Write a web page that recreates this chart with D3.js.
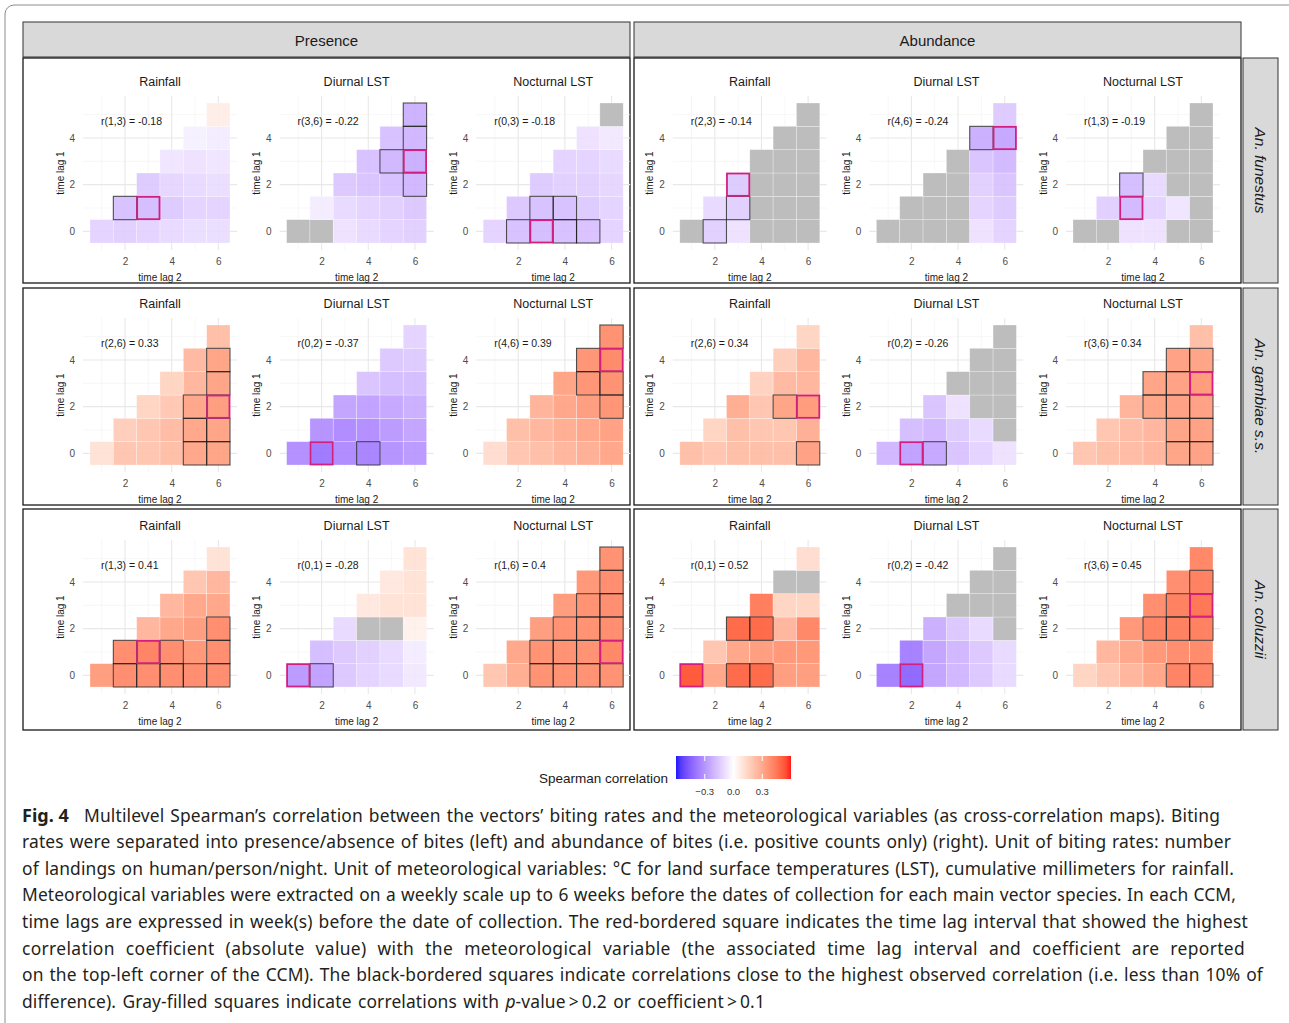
<!DOCTYPE html>
<html>
<head>
<meta charset="utf-8">
<script src="https://cdn.jsdelivr.net/npm/d3@7"></script>
<style>
  body { margin: 0; background: #fff; }
  svg { display: block; font-family: "Liberation Sans", Arial, sans-serif; }
</style>
</head>
<body>
<div id="plot"></div>
<script>
// ---- data ----
const outcomes = ["Presence", "Abundance"];
const species = ["An. funestus", "An. gambiae s.s.", "An. coluzzii"];
const variables = ["Rainfall", "Diurnal LST", "Nocturnal LST"];
const lag2Ticks = [2, 4, 6];
const lag1Ticks = [0, 2, 4];
const legendTicks = [-0.3, 0, 0.3];

// each map: rows for time lag 1 = 0..5, each row holds time lag 2 = lag1+1 .. 6
// null = gray (p-value > 0.2)
const funestusPresence = [
  [[-0.12,-0.13,-0.12,-0.10,-0.09,-0.09],[-0.17,-0.18,-0.14,-0.12,-0.12],[-0.14,-0.11,-0.10,-0.09],[-0.07,-0.08,-0.07],[-0.04,-0.05],[0.06]],
  [[null,null,-0.08,-0.10,-0.12,-0.13],[-0.05,-0.10,-0.12,-0.13,-0.15],[-0.15,-0.16,-0.17,-0.20],[-0.17,-0.20,-0.22],[-0.17,-0.20],[-0.21]],
  [[-0.12,-0.17,-0.18,-0.17,-0.165,-0.12],[-0.15,-0.17,-0.17,-0.14,-0.12],[-0.14,-0.13,-0.13,-0.11],[-0.12,-0.12,-0.10],[-0.08,-0.06],[null]]
];
const funestusAbundance = [
  [[null,-0.13,-0.08,null,null,null],[-0.10,-0.13,null,null,null],[-0.14,null,null,null],[null,null,null],[null,null],[null]],
  [[null,null,null,null,-0.08,-0.12],[null,null,null,-0.12,-0.14],[null,null,-0.13,-0.16],[null,-0.16,-0.19],[-0.22,-0.24],[-0.14]],
  [[null,null,-0.08,-0.08,null,null],[-0.13,-0.19,-0.12,-0.07,null],[-0.18,-0.10,null,null],[null,null,null],[null,null],[null]]
];
const gambiaePresence = [
  [[0.10,0.20,0.20,0.22,0.30,0.31],[0.17,0.20,0.23,0.30,0.31],[0.15,0.19,0.30,0.33],[0.15,0.25,0.31],[0.24,0.31],[0.22]],
  [[-0.31,-0.37,-0.32,-0.34,-0.30,-0.28],[-0.30,-0.32,-0.31,-0.28,-0.25],[-0.25,-0.26,-0.24,-0.22],[-0.16,-0.18,-0.18],[-0.15,-0.14],[-0.12]],
  [[0.12,0.20,0.22,0.25,0.27,0.30],[0.22,0.25,0.28,0.30,0.32],[0.26,0.30,0.33,0.36],[0.31,0.36,0.37],[0.36,0.39],[0.37]]
];
const gambiaeAbundance = [
  [[0.22,0.20,0.22,0.22,0.22,0.32],[0.15,0.22,0.20,0.20,0.27],[0.28,0.20,0.31,0.34],[0.16,0.24,0.25],[0.17,0.25],[0.15]],
  [[-0.20,-0.26,-0.24,-0.16,-0.12,-0.08],[-0.18,-0.20,-0.14,-0.10,null],[-0.16,-0.08,null,null],[null,null,null],[null,null],[null]],
  [[0.20,0.22,0.23,0.25,0.31,0.32],[0.20,0.23,0.25,0.31,0.32],[0.26,0.31,0.32,0.32],[0.31,0.32,0.34],[0.32,0.31],[0.22]]
];
const coluzziiPresence = [
  [[0.33,0.38,0.38,0.38,0.38,0.38],[0.38,0.41,0.38,0.35,0.38],[0.25,0.30,0.33,0.38],[0.25,0.30,0.30],[0.20,0.25],[0.10]],
  [[-0.28,-0.26,-0.15,-0.12,-0.10,-0.06],[-0.18,-0.15,-0.13,-0.10,-0.05],[-0.10,null,null,0.05],[0.08,0.10,0.10],[0.08,0.10],[0.10]],
  [[0.20,0.28,0.37,0.37,0.37,0.37],[0.30,0.37,0.37,0.37,0.40],[0.33,0.37,0.37,0.38],[0.34,0.37,0.38],[0.35,0.38],[0.37]]
];
const coluzziiAbundance = [
  [[0.52,0.30,0.48,0.48,0.33,0.33],[0.20,0.30,0.33,0.35,0.35],[0.48,0.48,0.25,0.40],[0.43,0.15,0.15],[null,null],[0.12]],
  [[-0.35,-0.42,-0.25,-0.20,-0.15,-0.10],[-0.35,-0.25,-0.20,-0.15,-0.10],[-0.22,-0.15,-0.10,null],[null,null,null],[null,null],[null]],
  [[0.15,0.20,0.25,0.30,0.41,0.41],[0.25,0.30,0.35,0.38,0.39],[0.35,0.41,0.42,0.42],[0.38,0.42,0.45],[0.38,0.42],[0.40]]
];

const captionLines = [
  "Multilevel Spearman\u2019s correlation between the vectors\u2019 biting rates and the meteorological variables (as cross-correlation maps). Biting",
  "rates were separated into presence/absence of bites (left) and abundance of bites (i.e. positive counts only) (right). Unit of biting rates: number",
  "of landings on human/person/night. Unit of meteorological variables: \u00b0C for land surface temperatures (LST), cumulative millimeters for rainfall.",
  "Meteorological variables were extracted on a weekly scale up to 6 weeks before the dates of collection for each main vector species. In each CCM,",
  "time lags are expressed in week(s) before the date of collection. The red-bordered square indicates the time lag interval that showed the highest",
  "correlation coefficient (absolute value) with the meteorological variable (the associated time lag interval and coefficient are reported",
  "on the top-left corner of the CCM). The black-bordered squares indicate correlations close to the highest observed correlation (i.e. less than 10% of",
  "difference). Gray-filled squares indicate correlations with |p|-value\u2009>\u20090.2 or coefficient\u2009>\u20090.1"
];
const captionEnds = [1220, 1231, 1234, 1236, 1248, 1245, 1263, 765];

// ---- layout ----
const w = 1289, h = 1023;
const cellArea = 140;
const mapX0 = i => 90 + i * 196.6;
const mapY0 = j => 103 + j * 222;
const rowFrames = [[58, 283], [288, 505], [509, 730]];
const colFrames = [[23, 630], [634, 1241]];

const rows = [
  [funestusPresence, funestusAbundance],
  [gambiaePresence, gambiaeAbundance],
  [coluzziiPresence, coluzziiAbundance]
];

const colorScale = d3.scaleLinear()
  .domain([-0.6, 0, 0.6])
  .range(["blue", "white", "red"])
  .interpolate(d3.interpolateLab)
  .clamp(true);
const grayFill = "#bdbdbd";

const svg = d3.select("div#plot")
  .append("svg")
  .attr("width", w)
  .attr("height", h);

// outer rounded frame of the figure
svg.append("rect")
  .attr("x", 5).attr("y", 5)
  .attr("width", 1310).attr("height", 1040)
  .attr("rx", 9)
  .attr("fill", "none")
  .attr("stroke", "#8c8c8c")
  .attr("stroke-width", 1);

// top strips
outcomes.forEach((o, k) => {
  const [a, b] = colFrames[k];
  svg.append("rect")
    .attr("x", a).attr("y", 22)
    .attr("width", b - a).attr("height", 35)
    .attr("fill", "#d9d9d9")
    .attr("stroke", "#333").attr("stroke-width", 1);
  svg.append("text")
    .attr("x", (a + b) / 2).attr("y", 40)
    .attr("text-anchor", "middle")
    .attr("dominant-baseline", "central")
    .style("font-size", "15px")
    .attr("fill", "#1a1a1a")
    .text(o);
});

// right strips
species.forEach((s, j) => {
  const [a, b] = rowFrames[j];
  svg.append("rect")
    .attr("x", 1243).attr("y", a)
    .attr("width", 35).attr("height", b - a)
    .attr("fill", "#d9d9d9")
    .attr("stroke", "#333").attr("stroke-width", 1);
  svg.append("text")
    .attr("transform", `translate(1260, ${(a + b) / 2}) rotate(90)`)
    .attr("text-anchor", "middle")
    .attr("dominant-baseline", "central")
    .style("font-size", "15.5px")
    .style("font-style", "italic")
    .attr("fill", "#1a1a1a")
    .text(s);
});

// frames around each group of three maps
rowFrames.forEach(([ya, yb]) => {
  colFrames.forEach(([xa, xb]) => {
    svg.append("rect")
      .attr("x", xa).attr("y", ya)
      .attr("width", xb - xa).attr("height", yb - ya)
      .attr("fill", "none")
      .attr("stroke", "#1a1a1a").attr("stroke-width", 1.3);
  });
});

// ---- one cross-correlation map ----
function drawMap(g, values, title) {
  const xScale = d3.scaleLinear().domain([0.5, 6.5]).range([0, cellArea]);
  const yScale = d3.scaleLinear().domain([-0.5, 5.5]).range([cellArea, 0]);
  const cw = xScale(1) - xScale(0);
  const ch = yScale(0) - yScale(1);
  const px = [xScale(0.2), xScale(6.8)];
  const py = [yScale(5.8), yScale(-0.8)];

  const cells = [];
  values.forEach((row, lag1) => {
    row.forEach((v, k) => cells.push({ lag1: lag1, lag2: lag1 + 1 + k, v: v }));
  });
  const valid = cells.filter(d => d.v !== null);
  const best = valid.reduce((a, b) => Math.abs(b.v) > Math.abs(a.v) ? b : a);
  const close = valid.filter(d => d !== best && Math.abs(d.v) >= 0.9 * Math.abs(best.v));

  // grid lines
  const grid = g.append("g").attr("class", "grid");
  [1, 3, 5].forEach(t => {
    grid.append("line").attr("x1", xScale(t)).attr("x2", xScale(t)).attr("y1", py[0]).attr("y2", py[1])
      .attr("stroke", "#f2f2f2").attr("stroke-width", 0.6);
    grid.append("line").attr("y1", yScale(t)).attr("y2", yScale(t)).attr("x1", px[0]).attr("x2", px[1])
      .attr("stroke", "#f2f2f2").attr("stroke-width", 0.6);
  });
  lag2Ticks.forEach(t => {
    grid.append("line").attr("x1", xScale(t)).attr("x2", xScale(t)).attr("y1", py[0]).attr("y2", py[1])
      .attr("stroke", "#e8e8e8").attr("stroke-width", 1.1);
  });
  lag1Ticks.forEach(t => {
    grid.append("line").attr("y1", yScale(t)).attr("y2", yScale(t)).attr("x1", px[0]).attr("x2", px[1])
      .attr("stroke", "#e8e8e8").attr("stroke-width", 1.1);
  });

  // tiles
  g.append("g")
    .selectAll("rect")
    .data(cells)
    .enter()
    .append("rect")
    .attr("x", d => xScale(d.lag2 - 0.5))
    .attr("y", d => yScale(d.lag1 + 0.5))
    .attr("width", cw)
    .attr("height", ch)
    .attr("fill", d => d.v === null ? grayFill : colorScale(d.v))
    .attr("fill-opacity", d => d.v === null ? 1 : 0.9)
    .attr("stroke", "#fff")
    .attr("stroke-opacity", 0.4)
    .attr("stroke-width", 0.7);

  // black boxes, then the red one
  g.append("g")
    .selectAll("rect")
    .data(close)
    .enter()
    .append("rect")
    .attr("x", d => xScale(d.lag2 - 0.5))
    .attr("y", d => yScale(d.lag1 + 0.5))
    .attr("width", cw)
    .attr("height", ch)
    .attr("fill", "none")
    .attr("stroke", "#1a1a1a")
    .attr("stroke-opacity", 0.75)
    .attr("stroke-width", 1.1);

  g.append("rect")
    .attr("x", xScale(best.lag2 - 0.5) + 0.5)
    .attr("y", yScale(best.lag1 + 0.5) + 0.5)
    .attr("width", cw - 1)
    .attr("height", ch - 1)
    .attr("fill", "none")
    .attr("stroke", "#d3207f")
    .attr("stroke-width", 1.8);

  // annotation
  g.append("text")
    .attr("x", 11)
    .attr("y", 22)
    .style("font-size", "10.5px")
    .attr("fill", "#1a1a1a")
    .text(`r(${best.lag1},${best.lag2}) = ${String(Math.round(best.v * 100) / 100)}`);

  // title
  g.append("text")
    .attr("x", (px[0] + px[1]) / 2)
    .attr("y", -21)
    .attr("text-anchor", "middle")
    .attr("dominant-baseline", "central")
    .style("font-size", "12.5px")
    .attr("fill", "#1a1a1a")
    .text(title);

  // axes
  const yAxis = d3.axisLeft(yScale).tickValues(lag1Ticks).tickFormat(d3.format("d")).tickSize(0).tickPadding(8);
  const xAxis = d3.axisBottom(xScale).tickValues(lag2Ticks).tickFormat(d3.format("d")).tickSize(0).tickPadding(8);
  const ya = g.append("g").attr("transform", `translate(${px[0]}, 0)`).call(yAxis);
  const xa = g.append("g").attr("transform", `translate(0, ${py[1]})`).call(xAxis);
  [ya, xa].forEach(a => {
    a.select(".domain").remove();
    a.selectAll("text")
      .style("font-size", "10px")
      .style("font-family", "'Liberation Sans', Arial, sans-serif")
      .attr("fill", "#4d4d4d");
  });

  g.append("text")
    .attr("x", cellArea / 2)
    .attr("y", cellArea + 34)
    .attr("text-anchor", "middle")
    .attr("dominant-baseline", "central")
    .style("font-size", "10px")
    .attr("fill", "#1a1a1a")
    .text("time lag 2");

  g.append("text")
    .attr("transform", `translate(-30, ${cellArea / 2}) rotate(-90)`)
    .attr("text-anchor", "middle")
    .attr("dominant-baseline", "central")
    .style("font-size", "10px")
    .attr("fill", "#1a1a1a")
    .text("time lag 1");
}

rows.forEach((pair, j) => {
  pair.forEach((group, k) => {
    group.forEach((values, v) => {
      const i = k * 3 + v;
      const g = svg.append("g")
        .attr("class", "map")
        .attr("transform", `translate(${mapX0(i)}, ${mapY0(j)})`);
      drawMap(g, values, variables[v]);
    });
  });
});

// ---- legend ----
const legendScale = d3.scaleLinear().domain([-0.6, 0.6]).range([676, 791]);
const defs = svg.append("defs");
const grad = defs.append("linearGradient").attr("id", "corrgrad");
d3.range(-0.6, 0.6001, 0.05).forEach(t => {
  grad.append("stop")
    .attr("offset", `${(t + 0.6) / 1.2 * 100}%`)
    .attr("stop-color", colorScale(t));
});
svg.append("rect")
  .attr("x", legendScale(-0.6)).attr("y", 756)
  .attr("width", legendScale(0.6) - legendScale(-0.6)).attr("height", 23)
  .attr("fill", "url(#corrgrad)")
  .attr("fill-opacity", 0.9);
legendTicks.forEach(t => {
  svg.append("line").attr("x1", legendScale(t)).attr("x2", legendScale(t)).attr("y1", 756).attr("y2", 761)
    .attr("stroke", "#fff").attr("stroke-width", 1);
  svg.append("line").attr("x1", legendScale(t)).attr("x2", legendScale(t)).attr("y1", 774).attr("y2", 779)
    .attr("stroke", "#fff").attr("stroke-width", 1);
  svg.append("text")
    .attr("x", legendScale(t)).attr("y", 791)
    .attr("text-anchor", "middle")
    .attr("dominant-baseline", "central")
    .style("font-size", "9.5px")
    .attr("fill", "#333")
    .text(d3.format(".1f")(t));
});
svg.append("text")
  .attr("x", 668).attr("y", 778)
  .attr("text-anchor", "end")
  .attr("dominant-baseline", "central")
  .style("font-size", "13.5px")
  .attr("fill", "#1a1a1a")
  .text("Spearman correlation");

// ---- caption: spare width shared between letters and word gaps ----
const cap = svg.append("g").attr("class", "caption")
  .style("font-family", "'Noto Sans', 'Open Sans', sans-serif")
  .style("font-size", "17.4px")
  .attr("fill", "#231f20");
const lineGap = 26.6;
captionLines.forEach((line, n) => {
  const base = 821.5 + n * lineGap;
  let x0 = 22;
  if (n === 0) {
    cap.append("text").attr("x", 22).attr("y", base)
      .style("font-weight", "bold").style("font-size", "18px")
      .text("Fig. 4");
    x0 = 84;
  }
  const t = cap.append("text").attr("x", x0).attr("y", base);
  line.split("|").forEach((part, p) => {
    t.append("tspan").style("font-style", p % 2 ? "italic" : "normal").text(part);
  });
  const natural = t.node().getComputedTextLength();
  const plain = line.replace(/\|/g, "");
  const spaces = (plain.match(/ /g) || []).length;
  const spare = captionEnds[n] - x0 - natural;
  const ls = Math.max(-0.2, Math.min(0.35, spare * 0.5 / plain.length));
  t.style("letter-spacing", `${ls}px`)
   .style("word-spacing", `${(spare - ls * plain.length) / spaces}px`);
});
</script>
</body>
</html>
